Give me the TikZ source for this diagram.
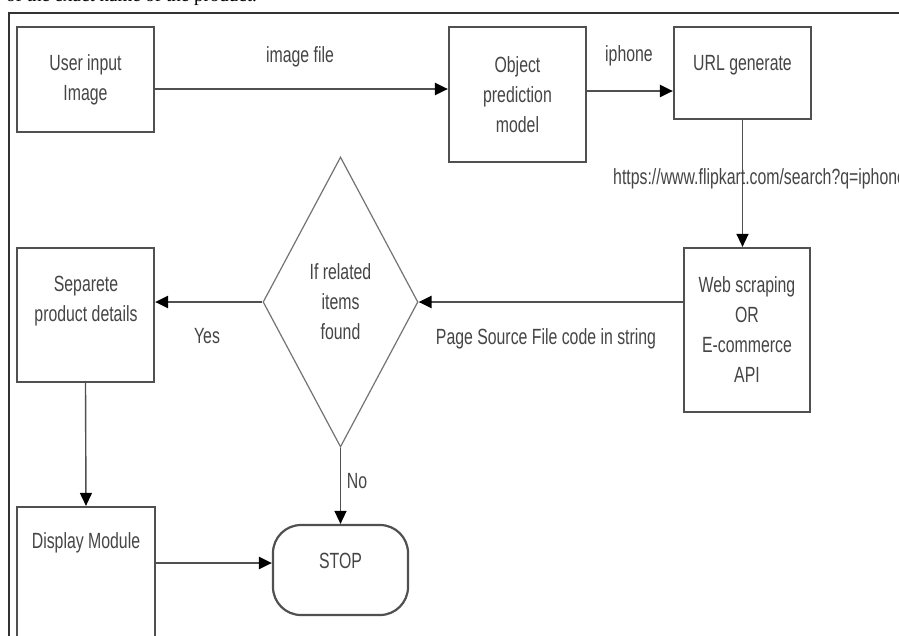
\documentclass[tikz,border=0pt]{standalone}
\usepackage{fontspec}
\setmainfont[FakeStretch=0.72]{Liberation Sans}
\newfontfamily\topserif{Liberation Serif}
\usetikzlibrary{arrows.meta,shapes.geometric}
\definecolor{boxline}{HTML}{505050}
\definecolor{txt}{HTML}{454545}
\definecolor{frame}{HTML}{333333}
\begin{document}
\begin{tikzpicture}[x=1pt,y=-1pt,
  every node/.style={text=txt, font=\fontsize{22}{30}\selectfont, align=center},
  procbox/.style={draw=boxline, line width=2.2pt, inner sep=0pt},
  plain/.style={inner sep=0pt},
  tip/.style={-{Triangle[length=13pt,width=12pt,color=black]}},
  conn/.style={draw=boxline, line width=2.2pt, tip},
  vconn/.style={draw=boxline, line width=1.4pt, tip},
  lbl/.style={inner sep=0pt}]
\useasboundingbox (0,0) rectangle (899,635);
\clip (0,0) rectangle (899,635);
\fill[white] (0,0) rectangle (899,635);
% cut-off caption line above the frame
\node[anchor=base west, inner sep=0pt, text=black, font=\topserif\fontsize{19}{22}\selectfont] (cap) at (6,1.5) {of the exact name of the product.};
% frame
\draw[frame, line width=1.5pt] (9,650) -- (9,13) -- (910,13);
% boxes
\node[procbox, minimum width=137pt, minimum height=105pt] (b1) at (85.5,79.5) {User input\\Image};
\node[procbox, minimum width=137pt, minimum height=135pt] (b2) at (517.5,94.5) {Object\\prediction\\model};
\node[procbox, minimum width=137pt, minimum height=92pt] (b3) at (742.5,73) {};
\node[plain] (t3) at (742.5,65) {URL generate};
\node[procbox, minimum width=126pt, minimum height=164pt] (b4) at (747,330) {Web scraping\\OR\\E-commerce\\API};
\node[draw=boxline!80, line width=1.2pt, diamond, minimum width=155pt, minimum height=290pt, inner sep=0pt] (dia) at (340.5,302) {If related\\items\\found};
\node[procbox, minimum width=137pt, minimum height=134pt] (b5) at (85.5,315) {};
\node[plain] (t5) at (86,301) {Separete\\product details};
\node[procbox, minimum width=138pt, minimum height=138pt] (b6) at (86,576) {};
\node[plain] (t6) at (86,543) {Display Module};
\node[procbox, rounded corners=28pt, minimum width=135pt, minimum height=90pt] (stop) at (340.5,570) {};
\node[plain] (tstop) at (340.5,561) {STOP};
% helper coordinates
\coordinate (r1) at (0,89);
\coordinate (r2) at (0,91);
\coordinate (r6) at (0,563);
% connectors
\draw[conn] (b1.east |- r1) -- (b2.west |- r1);
\draw[conn] (b2.east |- r2) -- (b3.west |- r2);
\draw[vconn] (b3.south) -- (b3.south |- b4.north);
\draw[conn] (b4.west |- dia.east) -- (dia.east);
\draw[conn] (dia.west) -- (b5.east |- dia.west);
\draw[vconn] (b5.south) -- (b6.north);
\draw[conn] (b6.east |- r6) -- (stop.west |- r6);
\draw[vconn] (dia.south) -- (stop.north);
% labels
\node[lbl] (limg) at (300,57) {image file};
\node[lbl] (liph) at (629,56) {iphone};
\node[lbl, anchor=west] (lurl) at (613,179) {https://www.flipkart.com/search?q=iphone};
\node[lbl] (lpage) at (546,339) {Page Source File code in string};
\node[lbl] (lyes) at (207,336) {Yes};
\node[lbl] (lno) at (357,481) {No};
\end{tikzpicture}
\end{document}
